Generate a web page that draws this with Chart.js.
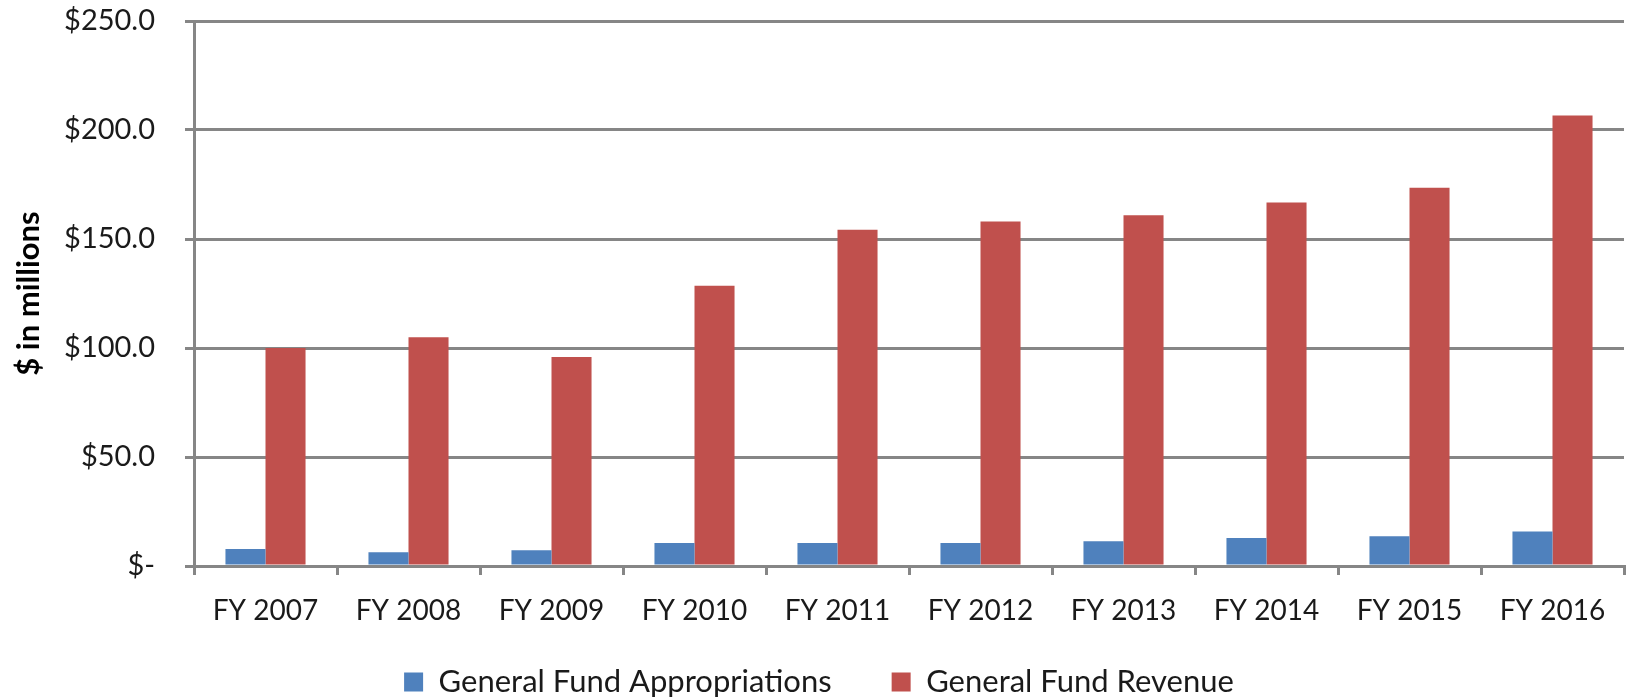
<!DOCTYPE html>
<html>
<head>
<meta charset="utf-8">
<script src="https://cdn.jsdelivr.net/npm/chart.js@4/dist/chart.umd.min.js"></script>
<style>
  html, body { margin: 0; padding: 0; background: #ffffff; }
  #wrap { position: relative; width: 1630px; height: 699px; }
</style>
</head>
<body>
<div id="wrap"><canvas id="c" width="1630" height="699"></canvas></div>
<script>
const categories = ["FY 2007", "FY 2008", "FY 2009", "FY 2010", "FY 2011", "FY 2012", "FY 2013", "FY 2014", "FY 2015", "FY 2016"];
const appropriations = [7.8, 6.3, 7.2, 10.6, 10.6, 10.6, 11.4, 12.9, 13.6, 15.8];
const revenue = [100.0, 104.9, 95.9, 128.6, 154.3, 158.0, 160.9, 166.8, 173.5, 206.7];
const seriesNames = ["General Fund Appropriations", "General Fund Revenue"];
const yTicks = [0, 50, 100, 150, 200, 250];
const yTitle = "$ in millions";

const FONT = "Lato, 'Open Sans', sans-serif";
const GRID = "#868686";
const LEGEND_PAD = 60;
const LEGEND_FONT = 31;

const legendShift = {
  id: 'legendShift',
  afterLayout(chart) {
    const lg = chart.legend;
    if (!lg) return;
    const target = 682 - LEGEND_FONT / 2 - LEGEND_PAD;
    const d = target - lg.top;
    lg.top += d; lg.bottom += d;
    lg.left += 7; lg.right += 7;
  }
};

new Chart(document.getElementById('c'), {
  type: 'bar',
  data: {
    labels: categories,
    datasets: [
      { label: seriesNames[0], data: appropriations, backgroundColor: '#4F81BD', borderWidth: 0 },
      { label: seriesNames[1], data: revenue, backgroundColor: '#C0504D', borderWidth: 0 }
    ]
  },
  options: {
    responsive: false,
    animation: false,
    devicePixelRatio: 1,
    layout: { padding: { top: 21, right: 6, left: 0, bottom: -30 } },
    datasets: { bar: { categoryPercentage: 0.56, barPercentage: 1.0 } },
    plugins: {
      tooltip: { enabled: false },
      legend: {
        position: 'bottom',
        labels: {
          font: { family: FONT, size: LEGEND_FONT },
          color: '#1a1a1a',
          boxWidth: 19, boxHeight: 19,
          padding: LEGEND_PAD
        }
      }
    },
    scales: {
      x: {
        grid: { display: true, drawOnChartArea: false, drawTicks: true, tickLength: 9, color: GRID, lineWidth: 3 },
        border: { display: true, color: GRID, width: 3 },
        ticks: { font: { family: FONT, size: 28 }, color: '#1a1a1a', padding: 19, maxRotation: 0, autoSkip: false },
        afterFit(scale) { scale.height = 62; }
      },
      y: {
        min: 0, max: 250,
        afterBuildTicks(scale) { scale.ticks = yTicks.map(v => ({ value: v })); },
        grid: { color: GRID, lineWidth: 3, tickLength: 9 },
        border: { display: true, color: GRID, width: 3 },
        ticks: {
          font: { family: FONT, size: 29 }, color: '#1a1a1a', padding: 30,
          callback: v => v === 0 ? '$-' : '$' + v.toFixed(1)
        },
        title: { display: true, text: yTitle, font: { family: FONT, size: 31, weight: 'bold' }, color: '#000', padding: { top: 10, bottom: 0 } },
        afterFit(scale) { scale.width = 194; scale.paddingTop = 10; scale.paddingBottom = 10; }
      }
    }
  },
  plugins: [legendShift]
});
</script>
</body>
</html>
